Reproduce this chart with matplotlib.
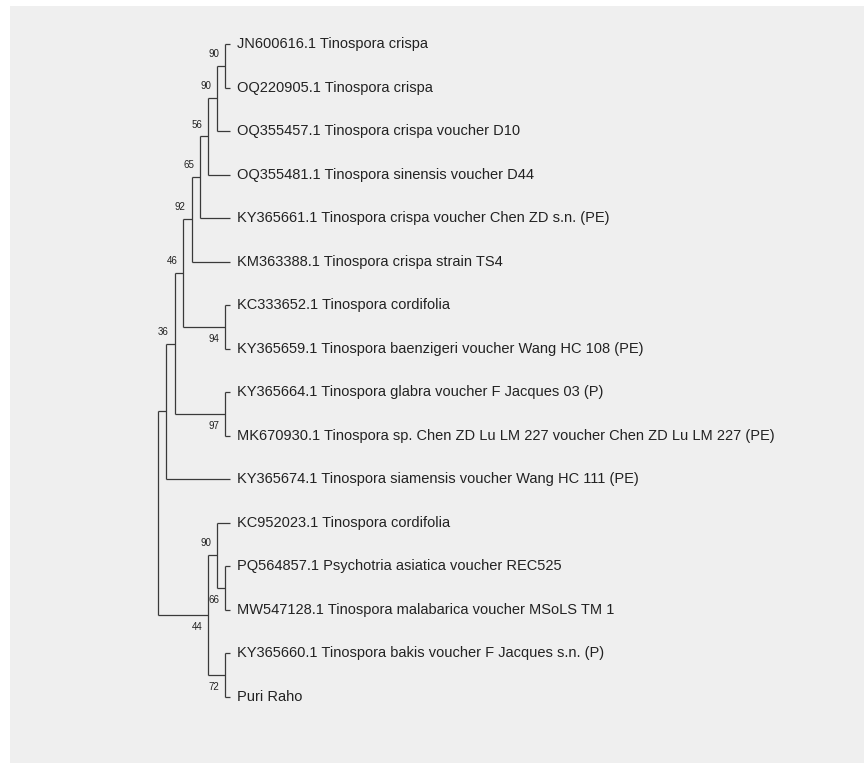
import matplotlib.pyplot as plt

# tip labels, top to bottom
leaf_names = [
    "JN600616.1 Tinospora crispa",
    "OQ220905.1 Tinospora crispa",
    "OQ355457.1 Tinospora crispa voucher D10",
    "OQ355481.1 Tinospora sinensis voucher D44",
    "KY365661.1 Tinospora crispa voucher Chen ZD s.n. (PE)",
    "KM363388.1 Tinospora crispa strain TS4",
    "KC333652.1 Tinospora cordifolia",
    "KY365659.1 Tinospora baenzigeri voucher Wang HC 108 (PE)",
    "KY365664.1 Tinospora glabra voucher F Jacques 03 (P)",
    "MK670930.1 Tinospora sp. Chen ZD Lu LM 227 voucher Chen ZD Lu LM 227 (PE)",
    "KY365674.1 Tinospora siamensis voucher Wang HC 111 (PE)",
    "KC952023.1 Tinospora cordifolia",
    "PQ564857.1 Psychotria asiatica voucher REC525",
    "MW547128.1 Tinospora malabarica voucher MSoLS TM 1",
    "KY365660.1 Tinospora bakis voucher F Jacques s.n. (P)",
    "Puri Raho",
]

# internal nodes: children (int = leaf index, str = node), bootstrap, level from tips
node_ids = ["A", "B", "C", "D", "E", "G", "F", "I", "H", "J", "N", "M", "P", "L", "root"]
node_children = [(0, 1), ("A", 2), ("B", 3), ("C", 4), ("D", 5), (6, 7), ("E", "G"),
                 (8, 9), ("F", "I"), ("H", 10), (12, 13), (11, "N"), (14, 15),
                 ("M", "P"), ("J", "L")]
node_support = [90, 90, 56, 65, 92, 94, 46, 97, 36, None, 66, 90, 72, 44, None]
node_level = [1, 2, 3, 4, 5, 1, 6, 1, 7, 8, 1, 2, 1, 3, 9]
leaf_level = 0.4

ROOT_LEVEL = 9
line_col = "#3a3a3a"
text_col = "#222222"

children = dict(zip(node_ids, node_children))
support = dict(zip(node_ids, node_support))
xpos = {k: ROOT_LEVEL - lv for k, lv in zip(node_ids, node_level)}
for i in range(len(leaf_names)):
    xpos[i] = ROOT_LEVEL - leaf_level

ypos = {}


def get_y(n):
    if isinstance(n, int):
        ypos[n] = n
    else:
        a, b = children[n]
        ypos[n] = (get_y(a) + get_y(b)) / 2.
    return ypos[n]


get_y("root")

fig = plt.figure(figsize=(8.64, 7.63), dpi=100)
fig.patch.set_facecolor("white")
ax = fig.add_axes([10 / 864, 0, 854 / 864, 757 / 763])
ax.set_facecolor("#efefef")
for s in ax.spines.values():
    s.set_visible(False)
ax.set_xticks([])
ax.set_yticks([])
ax.set_xlim(-17.62, 84.05)
ax.set_ylim(16.52, -0.873)

for n in node_ids:
    a, b = children[n]
    x = xpos[n]
    ax.plot([x, x], [ypos[a], ypos[b]], color=line_col, lw=0.9, solid_capstyle="butt")
    for c in (a, b):
        ax.plot([x, xpos[c]], [ypos[c], ypos[c]], color=line_col, lw=0.9,
                solid_capstyle="butt")

# bootstrap labels: above-left for upper child, below-left for lower child
for n in node_ids:
    for pos, c in enumerate(children[n]):
        if isinstance(c, str) and support[c] is not None:
            if pos == 0:
                ax.text(xpos[c] - 0.7, ypos[c] - 0.16, str(support[c]), ha="right",
                        va="bottom", fontsize=7, color=text_col, family="Liberation Sans")
            else:
                ax.text(xpos[c] - 0.7, ypos[c] + 0.16, str(support[c]), ha="right",
                        va="top", fontsize=7, color=text_col, family="Liberation Sans")

for i, name in enumerate(leaf_names):
    ax.text(xpos[i] + 0.8, i, name, ha="left", va="center", fontsize=10.5,
            color=text_col, family="Liberation Sans")

fig.savefig("out.png", dpi=100, facecolor=fig.get_facecolor())
